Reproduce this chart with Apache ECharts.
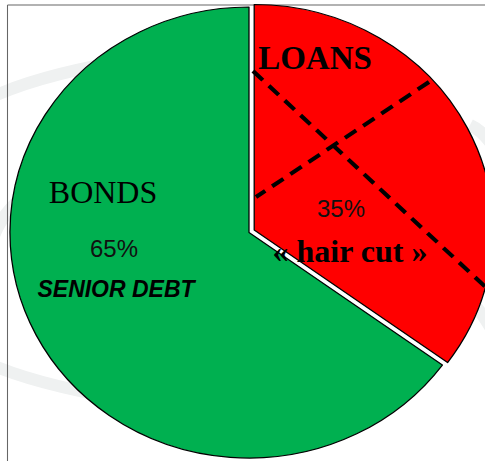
<!DOCTYPE html>
<html>
<head>
<meta charset="utf-8">
<script src="https://cdn.jsdelivr.net/npm/echarts@6/dist/echarts.min.js"></script>
<style>
  html, body { margin: 0; padding: 0; background: #fff; overflow: hidden; }
  /* the original pie is a slightly stretched ellipse */
  #main { width: 458px; height: 461px; transform: scaleX(1.06); transform-origin: 0 0; }
</style>
</head>
<body>
<div id="main"></div>
<script>
// data
var categories = ['LOANS', 'BONDS'];
var values = [35, 65];
var subLabels = ['« hair cut »', 'SENIOR DEBT'];
var colors = ['#ff0000', '#00b050'];

var total = values[0] + values[1];
var pct = values.map(function (v) { return Math.round(v / total * 100) + '%'; });

var SX = 1.06;
// page x -> chart x (before the css stretch)
function X(px) { return px / SX; }

var chart = echarts.init(document.getElementById('main'), null, { renderer: 'svg' });

function txt(text, x, y, style) {
  return {
    type: 'text', z: 101, x: X(x), y: y, scaleX: 1 / SX,
    style: Object.assign({ text: text, align: 'center', verticalAlign: 'middle', fill: '#000' }, style)
  };
}
function swoosh(x1, y1, cx, cy, x2, y2) {
  return {
    type: 'bezierCurve', z: 0, silent: true,
    shape: { x1: X(x1), y1: y1, cpx1: X(cx), cpy1: cy, x2: X(x2), y2: y2 },
    style: { fill: 'none', stroke: '#eff1f1', lineWidth: 12 }
  };
}
function dash(x1, y1, x2, y2) {
  return {
    type: 'line', z: 100,
    shape: { x1: X(x1), y1: y1, x2: X(x2), y2: y2 },
    style: { stroke: '#000', lineWidth: 4, lineDash: [13, 8] }
  };
}

var pctStyle = {
  fontFamily: 'Liberation Sans', fontSize: 24, fill: '#111',
  textShadowColor: 'rgba(255,255,255,0.6)', textShadowOffsetX: 1, textShadowOffsetY: 1, textShadowBlur: 0
};

var option = {
  animation: false,
  backgroundColor: '#fff',
  graphic: [
    // faint background swooshes
    swoosh(-10, 98, 40, 74, 140, 58),
    swoosh(-8, 240, 2, 212, 30, 190),
    swoosh(-10, 364, 40, 386, 140, 402),
    swoosh(470, 125, 485, 132, 495, 150),
    swoosh(470, 300, 482, 312, 495, 335),
    // frame
    { type: 'line', z: 1, shape: { x1: X(7.5), y1: 5, x2: X(490), y2: 5 }, style: { stroke: '#666', lineWidth: 1 } },
    { type: 'line', z: 1, shape: { x1: X(7.5), y1: 5, x2: X(7.5), y2: 465 }, style: { stroke: '#666', lineWidth: 1 } },
    // dashed cross on loans
    dash(253, 71, 492, 293),
    dash(429, 82, 256, 197),
    // labels
    txt(categories[0], 315, 58, { fontFamily: 'Liberation Serif', fontWeight: 'bold', fontSize: 33 }),
    txt(pct[0], 341, 208, pctStyle),
    txt(subLabels[0], 350, 251, { fontFamily: 'Liberation Serif', fontWeight: 'bold', fontSize: 32 }),
    txt(categories[1], 103, 192, { fontFamily: 'Liberation Serif', fontSize: 32 }),
    txt(pct[1], 114, 248, pctStyle),
    txt(subLabels[1], 116, 289, { fontFamily: 'Liberation Sans', fontWeight: 'bold', fontStyle: 'italic', fontSize: 23 })
  ],
  series: [{
    type: 'pie',
    center: [X(249), 232.5],
    radius: 225.5,
    startAngle: 90,
    clockwise: true,
    selectedMode: 'single',
    selectedOffset: 5.5,
    label: { show: false },
    labelLine: { show: false },
    emphasis: { disabled: true },
    itemStyle: { borderColor: '#000', borderWidth: 1.2 },
    data: categories.map(function (c, i) {
      return { name: c, value: values[i], selected: i === 0, itemStyle: { color: colors[i] } };
    })
  }]
};

chart.setOption(option);
</script>
</body>
</html>
